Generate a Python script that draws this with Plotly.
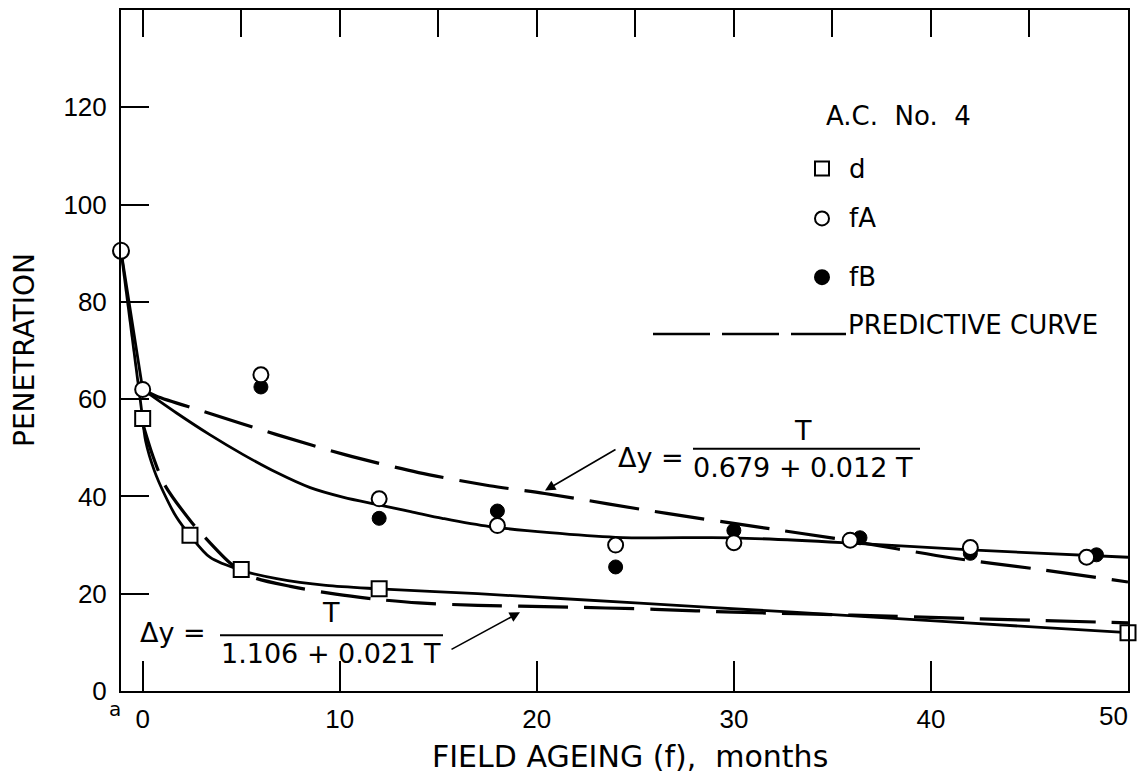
import plotly.graph_objects as go

# ---------------- data ----------------
a_month = [-1.1]
a_pen = [90.5]

d_months = [0, 2.4, 5, 12, 50]
d_pen = [56, 32, 25, 21, 12]

fA_months = [0, 6, 12, 18, 24, 30, 35.9, 42, 47.9]
fA_pen = [62, 65, 39.5, 34, 30, 30.5, 31, 29.5, 27.5]

fB_months = [6, 12, 18, 24, 30, 36.4, 42, 48.4]
fB_pen = [62.5, 35.5, 37, 25.5, 33, 31.5, 28.3, 28]

# hand-drawn fitted curves
fitA_start_x = [-1.1, 0]
fitA_start_y = [90.5, 62]
fitA_x = [0, 1.7, 3.4, 5.1, 6.8, 8.5, 10.2, 11.8, 13.6, 15.2, 17.6, 24, 30, 36, 42, 50]
fitA_y = [62, 57.2, 52.7, 48.6, 44.9, 41.8, 39.8, 38.4, 36.9, 35.5, 33.8, 31.6, 31.5, 30.4, 29.0, 27.5]

fitd_start_x = [-1.1, 0]
fitd_start_y = [90.5, 56]
fitd_x = [0, 0.15, 0.6, 1.1, 1.72, 2.4, 3.41, 5, 6.8, 9.3, 12, 17, 25, 33, 41, 50]
fitd_y = [56, 51.4, 45.2, 40.5, 35.7, 32, 27.5, 24.8, 23.1, 21.7, 21.0, 20.0, 18.1, 16.2, 14.2, 12]

# predictive curves
predA_x = [0, 0.7, 3.07, 6.8, 10.26, 14.0, 17.6, 20.4, 26.6, 31.1, 35.7, 41, 45.3, 50]
predA_y = [62, 60.6, 57.5, 52.7, 48.6, 44.9, 42.2, 40.6, 36.5, 33.8, 31.0, 27.4, 25.1, 22.4]

predd_x = [0, 0.5, 1.1, 2.5, 3.0, 4.5, 5.6, 7.5, 9.8, 12, 14, 17, 21, 26, 30, 36, 42, 50]
predd_y = [55, 48.5, 42.5, 34.6, 32.3, 26.1, 23.4, 21.5, 19.9, 18.8, 18.1, 17.6, 17.3, 16.8, 16.2, 15.6, 14.9, 14.0]

x_ticks = [0, 10, 20, 30, 40]
x_last_tick = "50"
x_top_ticks = [0, 5, 10, 15, 20, 25, 30, 35, 40, 45]
y_ticks = [0, 20, 40, 60, 80, 100, 120]

# ---------------- layout geometry ----------------
W, H = 1142, 781
L, R, T, B = 121, 14, 8, 90
PW, PH = W - L - R, H - T - B


def px(x):
    return (x - L) / PW


def py(y):
    return (H - B - y) / PH


BLACK = "black"
TXT = "DejaVu Sans"
TICKF = "Liberation Sans"
DASH = "50px,16px"

fig = go.Figure()

# fitted solid curves
fig.add_trace(go.Scatter(x=fitA_start_x, y=fitA_start_y, mode="lines",
                         line=dict(color=BLACK, width=2.8), hoverinfo="skip", cliponaxis=False))
fig.add_trace(go.Scatter(x=fitA_x, y=fitA_y, mode="lines",
                         line=dict(color=BLACK, width=2.8, shape="spline", smoothing=0.8),
                         hoverinfo="skip"))
fig.add_trace(go.Scatter(x=fitd_start_x, y=fitd_start_y, mode="lines",
                         line=dict(color=BLACK, width=2.8), hoverinfo="skip", cliponaxis=False))
fig.add_trace(go.Scatter(x=fitd_x, y=fitd_y, mode="lines",
                         line=dict(color=BLACK, width=2.8, shape="spline", smoothing=0.8),
                         hoverinfo="skip"))
# predictive dashed curves
fig.add_trace(go.Scatter(x=predA_x, y=predA_y, mode="lines",
                         line=dict(color=BLACK, width=3.2, dash=DASH, shape="spline", smoothing=0.8),
                         hoverinfo="skip"))
fig.add_trace(go.Scatter(x=predd_x, y=predd_y, mode="lines",
                         line=dict(color=BLACK, width=3.2, dash=DASH, shape="spline", smoothing=0.8),
                         hoverinfo="skip"))

# markers
fig.add_trace(go.Scatter(x=fB_months, y=fB_pen, mode="markers", name="fB",
                         marker=dict(symbol="circle", size=14, color=BLACK,
                                     line=dict(color=BLACK, width=1)), cliponaxis=False))
fig.add_trace(go.Scatter(x=fA_months, y=fA_pen, mode="markers", name="fA",
                         marker=dict(symbol="circle", size=15, color="white",
                                     line=dict(color=BLACK, width=2)), cliponaxis=False))
fig.add_trace(go.Scatter(x=d_months, y=d_pen, mode="markers", name="d",
                         marker=dict(symbol="square", size=15, color="white",
                                     line=dict(color=BLACK, width=2)), cliponaxis=False))
fig.add_trace(go.Scatter(x=a_month, y=a_pen, mode="markers", name="a",
                         marker=dict(symbol="circle", size=16, color="white",
                                     line=dict(color=BLACK, width=2)), cliponaxis=False))

# invisible helper so the top axis is drawn
fig.add_trace(go.Scatter(x=[None], y=[None], xaxis="x2", showlegend=False, hoverinfo="skip"))

axis_common = dict(showgrid=False, zeroline=False, showline=True, linecolor=BLACK,
                   linewidth=2, ticks="inside", tickcolor=BLACK, tickwidth=2)

fig.update_layout(
    width=W, height=H,
    margin=dict(l=L, r=R, t=T, b=B, pad=0),
    paper_bgcolor="white", plot_bgcolor="white",
    showlegend=False,
    xaxis=dict(range=[-1.1, 50], tickvals=x_ticks, ticktext=[str(v) for v in x_ticks],
               ticklen=30, mirror=True, ticklabelstandoff=4,
               tickfont=dict(family=TICKF, size=26, color=BLACK), **axis_common),
    xaxis2=dict(range=[-1.1, 50], overlaying="x", side="top", anchor="y",
                tickvals=x_top_ticks, showticklabels=False, ticks="inside", ticklen=27,
                tickwidth=2, tickcolor=BLACK, showgrid=False, zeroline=False, showline=False),
    yaxis=dict(range=[0, 140], tickvals=y_ticks, ticktext=[str(v) for v in y_ticks],
               ticklen=28, mirror=True, ticklabelstandoff=7,
               tickfont=dict(family=TICKF, size=26, color=BLACK), **axis_common),
)

ann = []
shapes = []


def text(xp, yp, s, size=27, xanchor="center", family=TXT, angle=0):
    ann.append(dict(xref="paper", yref="paper", x=px(xp), y=py(yp), text=s, showarrow=False,
                    xanchor=xanchor, yanchor="middle", textangle=angle,
                    font=dict(family=family, size=size, color=BLACK)))


# axis titles and special tick labels
text(630, 757, "FIELD AGEING (f),  months", size=30)
text(24, 349, "PENETRATION", size=28, angle=-90)
text(115, 709, "a", size=20)
text(1113, 716, x_last_tick, size=26, family=TICKF)

# legend block
text(824, 114, "A.C.  No.  4", size=26, xanchor="left")
text(847, 167, "d", size=26, xanchor="left")
text(847, 217, "fA", size=26, xanchor="left")
text(847, 276, "fB", size=26, xanchor="left")
text(846, 324, "PREDICTIVE CURVE", size=26, xanchor="left")

legend_marks = [("rect", 822, 167, "white"), ("circle", 822, 217, "white"), ("circle", 822, 276, BLACK)]
for kind, xc, yc, fill in legend_marks:
    shapes.append(dict(type=kind, xref="paper", yref="paper", xsizemode="pixel", ysizemode="pixel",
                       xanchor=px(xc), yanchor=py(yc), x0=-7, x1=7, y0=-7, y1=7,
                       fillcolor=fill, line=dict(color=BLACK, width=2)))
shapes.append(dict(type="line", xref="paper", yref="paper", x0=px(653), x1=px(846),
                   y0=py(333), y1=py(333), line=dict(color=BLACK, width=2.5, dash="57px,12px")))

# equations
text(173, 632, "Δy =")
text(331, 612, "T")
shapes.append(dict(type="line", xref="paper", yref="paper", x0=px(220), x1=px(443),
                   y0=py(635), y1=py(635), line=dict(color=BLACK, width=2)))
text(331, 653, "1.106 + 0.021 T")

text(651, 457, "Δy =")
text(803, 430, "T")
shapes.append(dict(type="line", xref="paper", yref="paper", x0=px(693), x1=px(920),
                   y0=py(448), y1=py(448), line=dict(color=BLACK, width=2)))
text(803, 467, "0.679 + 0.012 T")

# arrows
for hx, hy, tx, ty in [(545, 490, 617, 448), (520, 612, 450, 650)]:
    ann.append(dict(xref="paper", yref="paper", x=px(hx), y=py(hy), ax=tx - hx, ay=ty - hy,
                    text="", showarrow=True, arrowhead=2, arrowsize=1.3, arrowwidth=1.6,
                    arrowcolor=BLACK))

fig.update_layout(annotations=ann, shapes=shapes)
fig.write_html("out.html", config={"displayModeBar": False},
               post_script="document.body.style.margin='0';document.body.style.overflow='hidden';")
